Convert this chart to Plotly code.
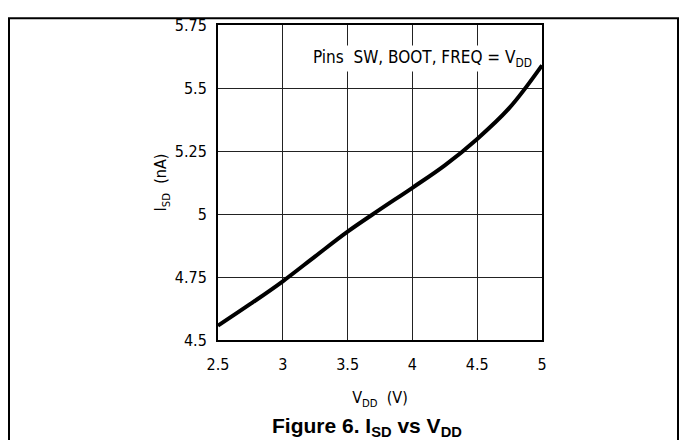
import plotly.graph_objects as go

vdd = [2.5, 2.75, 3.0, 3.25, 3.5, 3.75, 4.0, 4.25, 4.5, 4.75, 5.0]
isd = [4.557, 4.643, 4.733, 4.832, 4.930, 5.018, 5.104, 5.193, 5.298, 5.422, 5.590]

x_ticks = [2.5, 3, 3.5, 4, 4.5, 5]
x_labels = ["2.5", "3", "3.5", "4", "4.5", "5"]
y_ticks = [4.5, 4.75, 5, 5.25, 5.5, 5.75]
y_labels = ["4.5", "4.75", "5", "5.25", "5.5", "5.75"]

FONT = "DejaVu Sans Condensed, DejaVu Sans, sans-serif"

# page offset (body margin) compensation: image coords -> figure coords
DX, DY = 8, 8
W, H = 687 - 2 * DX, 448 - 2 * DY
L = 218 - DX
T = 16 - DY
PW, PH = 324, 324
R = W - L - PW
B = H - T - PH


def px(x):
    return (x - DX - L) / PW


def py(y):
    return (T + PH - (y - DY)) / PH


fig = go.Figure()
fig.add_trace(go.Scatter(x=vdd, y=isd, mode="lines",
                         line=dict(color="black", width=4, shape="spline"),
                         showlegend=False, hoverinfo="skip"))

fig.update_layout(
    width=W, height=H,
    margin=dict(l=L, r=R, t=T, b=B),
    paper_bgcolor="white", plot_bgcolor="white",
    font=dict(family=FONT, size=16, color="black"),
    xaxis=dict(range=[2.5, 5], tickvals=x_ticks, ticktext=x_labels,
               showgrid=True, gridcolor="#222", gridwidth=1,
               showline=True, linecolor="black", linewidth=2, mirror=True,
               ticks="", zeroline=False, ticklabelstandoff=9,
               title=dict(text="V<sub>DD</sub>  (V)", standoff=19,
                          font=dict(family=FONT, size=16))),
    yaxis=dict(range=[4.5, 5.75], tickvals=y_ticks, ticktext=y_labels,
               showgrid=True, gridcolor="#222", gridwidth=1,
               showline=True, linecolor="black", linewidth=2, mirror=True,
               ticks="", zeroline=False, ticklabelstandoff=6,
               title=dict(text="I<sub>SD</sub>  (nA)", standoff=4,
                          font=dict(family=FONT, size=16))),
    shapes=[
        dict(type="line", xref="paper", yref="paper", x0=px(0), x1=px(687),
             y0=py(9), y1=py(9), line=dict(color="black", width=2)),
        dict(type="line", xref="paper", yref="paper", x0=px(9), x1=px(9),
             y0=py(9), y1=py(448), line=dict(color="black", width=2)),
        dict(type="line", xref="paper", yref="paper", x0=px(678), x1=px(678),
             y0=py(9), y1=py(448), line=dict(color="black", width=2)),
    ],
    annotations=[
        dict(text="Pins  SW, BOOT, FREQ = V<sub>DD</sub>", xref="paper", yref="paper",
             x=px(311), y=py(50), xanchor="left", yanchor="middle",
             showarrow=False, bgcolor="white", borderpad=1,
             font=dict(family=FONT, size=17, color="black")),
        dict(text="<b>Figure 6. I<sub>SD</sub> vs V<sub>DD</sub></b>", xref="paper", yref="paper",
             x=px(367), y=py(429), xanchor="center", yanchor="middle",
             showarrow=False,
             font=dict(family="Liberation Sans, Arial, sans-serif", size=21, color="black")),
    ],
)

fig.write_html("out.html")
